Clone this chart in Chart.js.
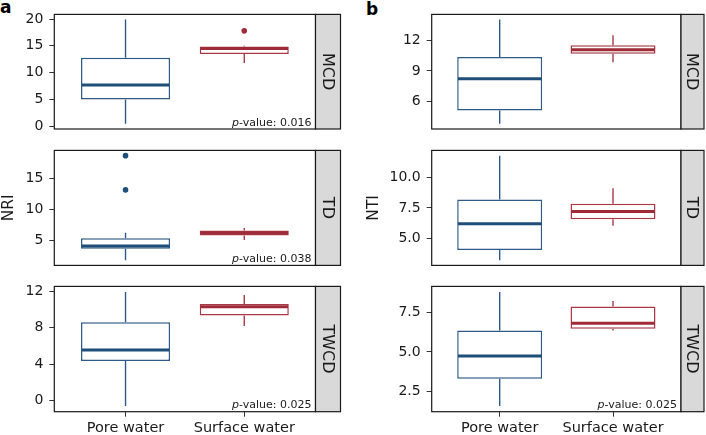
<!DOCTYPE html>
<html>
<head>
<meta charset="utf-8">
<script src="https://cdn.jsdelivr.net/npm/chart.js@4.4.1/dist/chart.umd.min.js"></script>
<style>
  body { margin: 0; background: #fff; width: 706px; height: 435px; position: relative; overflow: hidden; }
  canvas { position: absolute; }
  .tag { position: absolute; font: bold 17px "DejaVu Sans", sans-serif; color: #000; }
</style>
</head>
<body>
<div class="tag" style="left:0px;top:-3px">a</div>
<div class="tag" style="left:366px;top:-1px">b</div>
<canvas id="a0"></canvas><canvas id="a1"></canvas><canvas id="a2"></canvas>
<canvas id="b0"></canvas><canvas id="b1"></canvas><canvas id="b2"></canvas>
<script>
const groups = ["Pore water", "Surface water"];
const facets = ["MCD", "TD", "TWCD"];

// [lower whisker, Q1, median, Q3, upper whisker] for Pore water, Surface water
const nriMCD  = [[0.45, 5.0, 7.7, 12.8, 19.9],   [11.8, 13.5, 14.5, 14.9, 15.0]];
const nriTD   = [[1.75, 3.6, 4.05, 5.3, 6.2],    [5.0, 5.73, 6.12, 6.56, 6.95]];
const nriTWCD = [[-0.57, 4.36, 5.58, 8.6, 11.92], [8.2, 9.35, 10.3, 10.62, 11.6]];
const ntiMCD  = [[3.8, 5.1, 8.23, 10.37, 14.05], [9.85, 10.68, 11.09, 11.53, 12.5]];
const ntiTD   = [[3.18, 4.03, 6.19, 8.19, 11.83], [6.02, 6.57, 7.2, 7.84, 9.13]];
const ntiTWCD = [[1.56, 3.29, 4.75, 6.36, 8.81], [6.36, 6.48, 6.83, 7.9, 8.25]];

// outliers
const nriMCDOut = [[], [17.8]];
const nriTDOut  = [[18.64, 13.1], []];

const nriTicks = [[0, 5, 10, 15, 20], [5, 10, 15], [0, 4, 8, 12]];
const ntiTicks = [[6, 9, 12], [5, 7.5, 10], [2.5, 5, 7.5]];
const nriP = ["0.016", "0.038", "0.025"];
const ntiP = [null, null, "0.025"];

const lineCols = ["#1f4e79", "#9e2b37"];
const boxCols = ["#2d5a86", "#a73a45"];
const FONT = "'DejaVu Sans', sans-serif";
Chart.defaults.font.family = FONT;
Chart.defaults.color = "#1a1a1a";

// page layout
const cols = [
  { left: 0, width: 345, plotLeft: 54.3, plotRight: 315.5, strip: 25, titlePad: 0 },
  { left: 358, width: 348, plotLeft: 431.7, plotRight: 681, strip: 23, titlePad: 7 }
];
const rows = [
  { top: 0, height: 152, plotTop: 13.3, plotBottom: 140.5 },
  { top: 136, height: 152, plotTop: 147.5, plotBottom: 276.7 },
  { top: 272, height: 163, plotTop: 284, plotBottom: 411.7 }
];

function makePanel(id, c, r, stats, outs, ticks, pval, ytitle) {
  const col = cols[c], row = rows[r];
  const cv = document.getElementById(id);
  cv.width = col.width; cv.height = row.height;
  cv.style.left = col.left + "px"; cv.style.top = row.top + "px";
  const bottomRow = r === 2;

  // y range like ggplot: data range expanded by 5%
  let vals = [];
  stats.forEach(s => vals.push(s[0], s[4]));
  outs.forEach(o => vals.push(...o));
  const lo = Math.min(...vals), hi = Math.max(...vals), pad = (hi - lo) * 0.05;
  const dec = ticks.some(t => t % 1 !== 0) ? 1 : 0;

  const outPts = [];
  outs.forEach((o, i) => o.forEach(v => outPts.push({ x: i + 1, y: v, c: lineCols[i] })));

  const parts = {
    id: "boxParts",
    beforeDatasetsDraw(chart) {
      const { ctx, scales: { x, y } } = chart;
      stats.forEach((s, i) => {
        const px = x.getPixelForValue(i + 1);
        ctx.save();
        ctx.strokeStyle = boxCols[i];
        ctx.lineWidth = 1.4;
        ctx.beginPath();
        ctx.moveTo(px, y.getPixelForValue(s[0])); ctx.lineTo(px, y.getPixelForValue(s[1]));
        ctx.moveTo(px, y.getPixelForValue(s[3])); ctx.lineTo(px, y.getPixelForValue(s[4]));
        ctx.stroke();
        ctx.restore();
      });
    },
    afterDatasetsDraw(chart) {
      const { ctx, chartArea: a, scales: { x, y } } = chart;
      ctx.save();
      stats.forEach((s, i) => {
        const py = y.getPixelForValue(s[2]);
        ctx.strokeStyle = lineCols[i];
        ctx.lineWidth = 3;
        ctx.beginPath();
        ctx.moveTo(x.getPixelForValue(i + 1 - 0.375) + 0.8, py);
        ctx.lineTo(x.getPixelForValue(i + 1 + 0.375) - 0.8, py);
        ctx.stroke();
      });
      // panel border
      ctx.strokeStyle = "#1a1a1a";
      ctx.lineWidth = 1.2;
      ctx.strokeRect(a.left, a.top, a.right - a.left, a.bottom - a.top);
      // facet strip
      ctx.fillStyle = "#d9d9d9";
      ctx.fillRect(a.right, a.top, col.strip, a.bottom - a.top);
      ctx.strokeRect(a.right, a.top, col.strip, a.bottom - a.top);
      ctx.translate(a.right + col.strip / 2, (a.top + a.bottom) / 2);
      ctx.rotate(Math.PI / 2);
      ctx.fillStyle = "#1a1a1a";
      ctx.font = "16px " + FONT;
      ctx.textAlign = "center";
      ctx.textBaseline = "middle";
      ctx.fillText(facets[r], 0, 1);
      ctx.restore();
      if (pval) {
        ctx.save();
        ctx.fillStyle = "#1a1a1a";
        ctx.textAlign = "right";
        ctx.textBaseline = "alphabetic";
        ctx.font = "11px " + FONT;
        const rest = "-value: " + pval;
        const xr = a.right - 4, yb = a.bottom - 3.5;
        ctx.fillText(rest, xr, yb);
        const w = ctx.measureText(rest).width;
        ctx.font = "italic 11px " + FONT;
        ctx.fillText("p", xr - w, yb);
        ctx.restore();
      }
    }
  };

  new Chart(cv, {
    type: "bar",
    data: {
      datasets: [
        {
          type: "scatter",
          data: outPts,
          pointRadius: 2.8,
          pointBorderWidth: 0,
          pointBackgroundColor: outPts.map(p => p.c)
        },
        {
          data: stats.map((s, i) => ({ x: i + 1, y: [s[1], s[3]] })),
          backgroundColor: "#ffffff",
          borderColor: boxCols,
          borderWidth: 1.5,
          borderSkipped: false,
          categoryPercentage: 1,
          barPercentage: 0.75
        }
      ]
    },
    options: {
      responsive: false,
      animation: false,
      events: [],
      layout: {
        padding: {
          left: 0,
          right: col.width - col.plotRight + col.left,
          top: row.plotTop - row.top,
          bottom: bottomRow ? 0 : row.top + row.height - row.plotBottom
        }
      },
      plugins: { legend: { display: false }, tooltip: { enabled: false } },
      scales: {
        x: {
          type: "linear",
          min: 0.4,
          max: 2.6,
          offset: false,
          bounds: "data",
          display: bottomRow,
          afterBuildTicks: s => { s.ticks = groups.map((g, i) => ({ value: i + 1 })); },
          afterFit: s => { s.height = row.top + row.height - row.plotBottom; },
          grid: { drawOnChartArea: false, offset: false, tickLength: 5, color: "#333" },
          border: { display: false },
          ticks: {
            callback: v => groups[v - 1],
            font: { size: 14.5 },
            padding: 3,
            maxRotation: 0,
            autoSkip: false
          }
        },
        y: {
          min: lo - pad,
          max: hi + pad,
          afterBuildTicks: s => { s.ticks = ticks.map(v => ({ value: v })); },
          afterFit: s => { s.width = col.plotLeft - col.left; },
          grid: { drawOnChartArea: false, tickLength: 5, color: "#333" },
          border: { display: false },
          ticks: {
            callback: v => v.toFixed(dec),
            font: { size: 14 },
            padding: 6
          },
          title: {
            display: !!ytitle,
            text: ytitle,
            font: { size: 15.5 },
            color: "#1a1a1a",
            padding: { top: col.titlePad, bottom: 0 }
          }
        }
      }
    },
    plugins: [parts]
  });
}

makePanel("a0", 0, 0, nriMCD, nriMCDOut, nriTicks[0], nriP[0], "");
makePanel("a1", 0, 1, nriTD, nriTDOut, nriTicks[1], nriP[1], "NRI");
makePanel("a2", 0, 2, nriTWCD, [[], []], nriTicks[2], nriP[2], "");
makePanel("b0", 1, 0, ntiMCD, [[], []], ntiTicks[0], ntiP[0], "");
makePanel("b1", 1, 1, ntiTD, [[], []], ntiTicks[1], ntiP[1], "NTI");
makePanel("b2", 1, 2, ntiTWCD, [[], []], ntiTicks[2], ntiP[2], "");
</script>
</body>
</html>
